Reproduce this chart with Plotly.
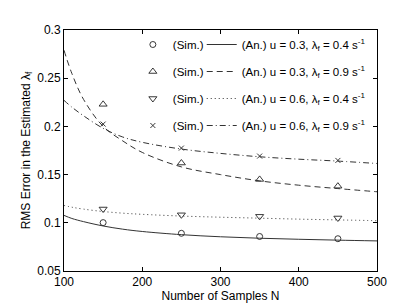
import plotly.graph_objects as go

# Analytical curves
n_curve = [100, 110, 125, 150, 175, 200, 250, 300, 350, 400, 450, 500]
an_u03_l04 = [0.1077, 0.1045, 0.1012, 0.0967, 0.0934, 0.0910, 0.0877, 0.0855, 0.0840, 0.0829, 0.0820, 0.0812]
an_u03_l09 = [0.279, 0.255, 0.228, 0.200, 0.185, 0.173, 0.158, 0.150, 0.1435, 0.139, 0.1355, 0.1322]
an_u06_l04 = [0.1180, 0.1162, 0.1142, 0.1117, 0.1100, 0.1088, 0.1070, 0.1058, 0.1048, 0.1038, 0.1030, 0.1022]
an_u06_l09 = [0.227, 0.220, 0.211, 0.198, 0.189, 0.1835, 0.1765, 0.172, 0.1685, 0.166, 0.164, 0.1615]

# Simulation points
n_sim = [150, 250, 350, 450]
sim_u03_l04 = [0.1002, 0.0891, 0.0858, 0.0835]
sim_u03_l09 = [0.2229, 0.1620, 0.1450, 0.1380]
sim_u06_l04 = [0.1143, 0.1083, 0.1067, 0.1050]
sim_u06_l09 = [0.2024, 0.1775, 0.1692, 0.1647]

labels = [
    "(An.) u = 0.3, λ<sub>f</sub> = 0.4 s<sup>-1</sup>",
    "(An.) u = 0.3, λ<sub>f</sub> = 0.9 s<sup>-1</sup>",
    "(An.) u = 0.6, λ<sub>f</sub> = 0.4 s<sup>-1</sup>",
    "(An.) u = 0.6, λ<sub>f</sub> = 0.9 s<sup>-1</sup>",
]
curves = [an_u03_l04, an_u03_l09, an_u06_l04, an_u06_l09]
sims = [sim_u03_l04, sim_u03_l09, sim_u06_l04, sim_u06_l09]
dashes = ["solid", "6px,4px", "1px,3px", "6px,3px,1px,3px"]
symbols = ["circle-open", "triangle-up-open", "triangle-down-open", "x-thin-open"]
msizes = [6, 7, 7, 5]

FONT = "Liberation Sans, Arial, sans-serif"
fig = go.Figure()
for i in range(4):
    fig.add_trace(go.Scatter(
        x=n_sim, y=sims[i], mode="markers", name="(Sim.)",
        marker=dict(symbol=symbols[i], size=msizes[i], color="#222",
                    line=dict(color="#222", width=0.9)),
        legend="legend", legendgroup="s%d" % i, showlegend=True))
for i in range(4):
    fig.add_trace(go.Scatter(
        x=n_curve, y=curves[i], mode="lines", name=labels[i],
        line=dict(color="#333", width=1, dash=dashes[i], shape="spline"),
        legend="legend2", legendgroup="a%d" % i, showlegend=True))

axis_common = dict(showline=True, linecolor="black", linewidth=1, mirror="ticks",
                   ticks="inside", ticklen=4, tickcolor="black", showgrid=False,
                   zeroline=False, tickfont=dict(family=FONT, size=12, color="black"))

fig.update_layout(
    width=407, height=305,
    margin=dict(l=56, r=38, t=22, b=35),
    plot_bgcolor="white", paper_bgcolor="white",
    font=dict(family=FONT, size=12, color="black"),
    xaxis=dict(range=[100, 500], tickvals=[100, 200, 300, 400, 500],
               title=dict(text="Number of Samples N", standoff=3,
                          font=dict(family=FONT, size=12)), **axis_common),
    yaxis=dict(range=[0.05, 0.3], tickvals=[0.05, 0.1, 0.15, 0.2, 0.25, 0.3],
               ticktext=["0.05", "0.1", "0.15", "0.2", "0.25", "0.3"],
               title=dict(text="RMS Error in the Estimated λ<sub>f</sub>", standoff=4,
                          font=dict(family=FONT, size=12)), **axis_common),
    legend=dict(x=0.22, y=1.0, xanchor="left", yanchor="top", bgcolor="rgba(0,0,0,0)",
                traceorder="grouped", tracegroupgap=8,
                font=dict(family=FONT, size=11.5)),
    legend2=dict(x=0.44, y=1.0, xanchor="left", yanchor="top", bgcolor="rgba(0,0,0,0)",
                 traceorder="grouped", tracegroupgap=8,
                 font=dict(family=FONT, size=11.5)),
)

fig.write_html("out.html")
